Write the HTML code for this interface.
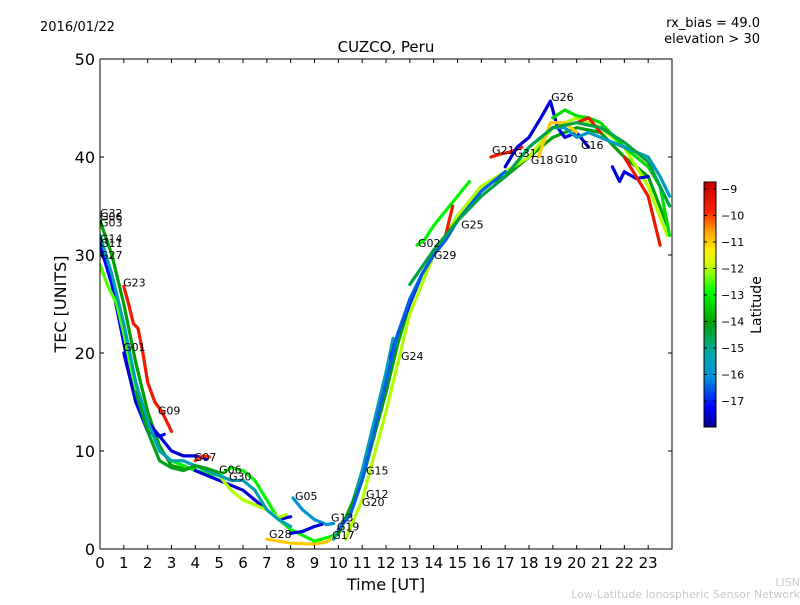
<!DOCTYPE html>
<html><head><meta charset="utf-8"><style>
body{margin:0;background:#fff;}
svg text{font-family:"DejaVu Sans","Liberation Sans",sans-serif;}
</style></head><body>
<svg id="chart" width="800" height="600" viewBox="0 0 800 600" xmlns="http://www.w3.org/2000/svg">
<defs>
<linearGradient id="cmap" x1="0" y1="1" x2="0" y2="0">
<stop offset="0" stop-color="#00008f"/><stop offset="0.08" stop-color="#0000ff"/><stop offset="0.2" stop-color="#0090d8"/><stop offset="0.3" stop-color="#00a8a8"/><stop offset="0.43" stop-color="#00a000"/><stop offset="0.55" stop-color="#00ff00"/><stop offset="0.66" stop-color="#c8ff00"/><stop offset="0.72" stop-color="#ffee00"/><stop offset="0.8" stop-color="#ffa000"/><stop offset="0.88" stop-color="#ff2000"/><stop offset="1" stop-color="#c00000"/>
</linearGradient>
<clipPath id="plotclip"><rect x="100" y="59" width="572" height="490"/></clipPath>
</defs>
<text x="40" y="31" font-size="13">2016/01/22</text>
<text x="760" y="27" font-size="13" text-anchor="end">rx_bias = 49.0</text>
<text x="760" y="43" font-size="13" text-anchor="end">elevation &gt; 30</text>
<text x="386" y="52" font-size="15" text-anchor="middle">CUZCO, Peru</text>
<g id="tracks" clip-path="url(#plotclip)"></g>
<g id="labels"></g>
<rect x="100" y="59" width="572" height="490" fill="none" stroke="#000" stroke-width="1"/>
<g id="xaxis"></g>
<g id="yaxis"></g>
<text x="386" y="590" font-size="16" text-anchor="middle">Time [UT]</text>
<text transform="translate(66,304) rotate(-90)" font-size="16" text-anchor="middle">TEC [UNITS]</text>
<rect x="704" y="182" width="12" height="245" fill="url(#cmap)" stroke="#000" stroke-width="1"/>
<g id="cbaxis"></g>
<text transform="translate(761,305) rotate(-90)" font-size="14" text-anchor="middle">Latitude</text>
<text x="800" y="586" font-size="11" fill="#c8c8c8" text-anchor="end">LISN</text>
<text x="800" y="598" font-size="11" fill="#c8c8c8" text-anchor="end">Low-Latitude Ionospheric Sensor Network</text>
</svg>
<script>
const xTicks=[0,1,2,3,4,5,6,7,8,9,10,11,12,13,14,15,16,17,18,19,20,21,22,23];
const yTicks=[0,10,20,30,40,50];
const cbTicks=[-9,-10,-11,-12,-13,-14,-15,-16,-17];
const trackLat=[-14,-17.2,-12.5,-9.6,-17.5,-10,-13,-17.5,-12,-16,-17.5,-11,-15.5,-14,-17,-12,-13,-9.6,-9.6,-17.5,-13.3,-9.5,-17.5,-15.7,-9.5,-11,-15.5,-14.2,-16.5,-14.5];
const trackT=[
[0,0.5,1,1.5,2,2.5,3,3.5,4],
[0,0.5,1,1.5,2,2.5,2.7],
[0,0.3,0.7,1,1.5,2,2.5,3,3.5],
[1,1.2,1.4,1.6,1.8,2,2.3,2.6,3],
[1,1.5,2,2.5,3,3.5,4,4.5],
[4,4.3,4.6],
[3,4,5,5.5,6,6.5,7,7.5,8,9,10],
[4,5,6,6.5,7,7.5,8],
[5,5.5,6,6.5,7,7.5,7.8],
[8.1,8.5,9,9.5,9.8],
[8,8.5,9,9.3],
[7,7.5,8,9,9.5,10],
[9.8,10.5,11,11.5,12,12.3],
[10,11,12,12.5,13,13.5,14,14.5,15,15.5,16,17,18,19,20,21,22,23,23.8],
[12.2,12.5,13,13.5,14,14.5,15,15.5],
[10.3,11,12,13,14,15,16,17,18,19,20,21,22,23,23.8],
[13.3,13.6,14,14.5,15,15.5],
[13.5,14,14.5,14.8],
[16.4,16.8,17.2,17.7],
[17,17.5,18,18.5,18.9,19.2,19.5,20,20.5],
[19,19.5,20,20.5,21,22,23,23.5,23.9],
[20,20.5,21],
[21.5,21.8,22,22.5,23],
[17,18,19,19.5,20,20.5,21,22,23,23.5,23.9],
[22,22.5,23,23.5],
[18.4,18.9,19.5,20],
[0,0.5,1,1.5,2,2.5,3,3.5,4,5,5.5,6,6.5,7,7.5,8],
[1.5,2,2.5,3,3.5,4,4.5,5],
[10,10.5,11,11.5,12,12.5,13,13.5,14,14.5,15,15.5,16,16.5,17],
[13,14,15,16,17,18,19,20,21,22,23,23.9]
];
const trackTEC=[
[33.5,30,25,19,14,10.5,8.5,8.2,8.3],
[31,27,21,15,12,11.5,11.7],
[29,27,25,22,16,13,10,9,9],
[26.8,25,23,22.5,20,17,15,14,12],
[20,15,13,11.5,10,9.5,9.5,9.2],
[9,9.5,9.4],
[9,8,7.5,8.3,8,7,5,3,2,0.8,1.5],
[8,7,6,5,4,3,3.3],
[7.5,6,5,4.5,4,3.2,3.5],
[5.2,4,3,2.5,2.6],
[1.6,1.8,2.3,2.5],
[1,0.8,0.6,0.5,0.7,1.5],
[1,4,8,13,18,21.5],
[1.5,7,16,21,25,28,30,32,34,35.5,37,38,40,42,43,42.5,40,38,33],
[19.5,22,25,28,30,32,33.5,35],
[1,5,14,24,30,34,37,38.5,40,43,44,43,41,37,32],
[31,31.5,33,34.5,36,37.5],
[28,30,32,35],
[40,40.3,40.5,41],
[39,41,42,44,45.7,43,42,42.5,41],
[44,44.8,44.2,44,43.5,41,39,37,32],
[43.5,44,42.5],
[39,37.5,38.5,37.8,38],
[38,41,43,43,42,42.5,42,41,40,38,36],
[40,38,36,31],
[40,43.5,43.5,42.5],
[32,28,23,17,13,10,9,9,8.5,7.5,7,7,6,4,3,2.3],
[16,12,9,8.3,8,8.5,8.2,7.8],
[2,3.5,7,12,17,22,25.5,28,30,31.5,33.5,35,36.5,37.5,38.5],
[27,30.5,33.5,36,38,41,43,43.5,43,41.5,39.5,35]
];
const labNames=["G32","G06","G03","G14","G11","G27","G23","G01","G09","G07","G06","G30","G05","G28","G13","G19","G17","G15","G12","G20","G24","G02","G29","G25","G21","G31","G18","G10","G26","G16"];
const labT=[0,0,0,0,0,0,0.97,0.97,2.43,3.94,5.0,5.41,8.18,7.09,9.69,9.94,9.74,11.16,11.16,10.99,12.63,13.34,14.01,15.15,16.45,17.38,18.08,19.09,18.93,20.18];
const labTEC=[33.9,33.5,32.9,31.3,30.8,29.6,26.8,20.2,13.7,9.0,7.7,7.0,5.0,1.1,2.8,1.9,1.0,7.6,5.2,4.4,19.3,30.8,29.6,32.7,40.3,40.0,39.3,39.4,45.7,40.8];

const NS="http://www.w3.org/2000/svg";
const X=t=>100+t*(572/24);
const Y=v=>549-v*9.8;
const CB=l=>182+(-8.74-l)*(245/9.24);
const stops=[[-17.98,[0,0,143]],[-17.24,[0,0,255]],[-16.13,[0,144,216]],[-15.21,[0,168,168]],[-14.01,[0,160,0]],[-12.9,[0,255,0]],[-11.88,[200,255,0]],[-11.33,[255,238,0]],[-10.59,[255,160,0]],[-9.85,[255,32,0]],[-8.74,[192,0,0]]];
function col(l){
  for(let i=0;i<stops.length-1;i++){
    const a=stops[i],b=stops[i+1];
    if(l<=b[0]||i==stops.length-2){
      let f=Math.max(0,Math.min(1,(l-a[0])/(b[0]-a[0])));
      const c=a[1].map((v,k)=>Math.round(v+(b[1][k]-v)*f));
      return "rgb("+c.join(",")+")";
    }
  }
}
function mk(tag,attrs,parent){const e=document.createElementNS(NS,tag);for(const k in attrs)e.setAttribute(k,attrs[k]);parent.appendChild(e);return e;}
const gT=document.getElementById('tracks');
trackT.forEach((ts,i)=>{
  const pts=ts.map((t,j)=>X(t).toFixed(1)+","+Y(trackTEC[i][j]).toFixed(1)).join(" ");
  const p=mk('polyline',{points:pts,fill:"none",stroke:col(trackLat[i]),"stroke-width":3.2,"stroke-linejoin":"round","stroke-linecap":"round"},gT);
  
  
});
const gL=document.getElementById('labels');
labNames.forEach((n,i)=>{
  const t=mk('text',{x:X(labT[i]),y:Y(labTEC[i]),"font-size":11},gL);
  t.textContent=n;
  
  
});
const gx=document.getElementById('xaxis');
xTicks.forEach(v=>{
  const x=X(v);
  const l1=mk('line',{x1:x,x2:x,y1:549,y2:545,stroke:"#000"},gx);
  
  
  mk('line',{x1:x,x2:x,y1:59,y2:63,stroke:"#000"},gx);
  const t=mk('text',{x:x,y:568,"font-size":15,"text-anchor":"middle"},gx);
  t.textContent=v;
  
  
});
const gy=document.getElementById('yaxis');
yTicks.forEach(v=>{
  const y=Y(v);
  const l1=mk('line',{x1:100,x2:104,y1:y,y2:y,stroke:"#000"},gy);
  
  
  mk('line',{x1:668,x2:672,y1:y,y2:y,stroke:"#000"},gy);
  const t=mk('text',{x:95,y:y+6,"font-size":16,"text-anchor":"end"},gy);
  t.textContent=v;
  
  
});
const gc=document.getElementById('cbaxis');
cbTicks.forEach(v=>{
  const y=CB(v);
  mk('line',{x1:704,x2:707,y1:y,y2:y,stroke:"#000"},gc);
  mk('line',{x1:713,x2:716,y1:y,y2:y,stroke:"#000"},gc);
  const t=mk('text',{x:721,y:y+4,"font-size":11},gc);
  t.textContent="\u2212"+Math.abs(v);
  
  
});
</script>
</body></html>
